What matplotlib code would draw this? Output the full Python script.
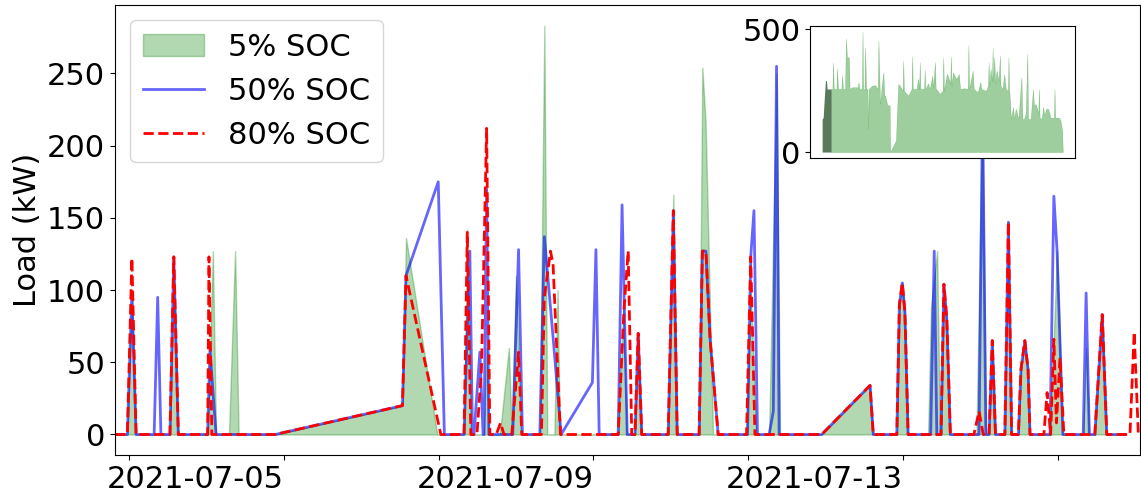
import numpy as np
import matplotlib
matplotlib.use("Agg")
import matplotlib.pyplot as plt

# ---------------- data (hours since 2021-07-03 00:00, kW) ----------------
green_h = [-4.3, -0.5, 0.9, 2.2, 12.7, 13.9, 15.3, 24.4, 26.0, 27.0, 31.0, 32.9, 34.0,
           45.3, 84.8, 85.9, 95.6, 103.9, 104.9, 106.0, 110.0, 110.9, 111.6, 115.0, 117.8,
           118.7, 120.0, 121.5, 127.4, 128.8, 129.7, 131.9, 132.9, 133.6, 151.7, 153.3,
           154.4, 156.9, 157.9, 159.0, 167.2, 168.8, 170.0, 176.8, 177.8, 178.8, 181.1,
           191.5, 192.8, 194.5, 198.5, 200.8, 201.9, 214.8, 229.8, 230.8, 238.1, 238.9,
           239.8, 240.6, 241.6, 247.8, 248.7, 250.6, 251.5, 251.8, 252.7, 253.6, 254.7,
           262.8, 264.6, 265.8, 266.7, 267.7, 268.7, 271.6, 272.7, 273.7, 275.8, 276.6,
           277.8, 278.8, 279.4, 285.6, 287.8, 289.6, 295.9, 296.8, 297.8, 299.5, 301.8,
           303.2, 308.8]
green_kw = [0, 0, 95, 0, 0, 110, 0, 0, 127, 0, 0, 127, 0,
            0, 20, 136, 0, 0, 142, 0, 0, 60, 0, 0, 60,
            0, 110, 0, 0, 283, 0, 0, 100, 0, 0, 87,
            0, 0, 70, 0, 0, 166, 0, 0, 254, 216, 0,
            0, 100, 0, 0, 250, 0, 0, 34, 0, 0, 90,
            105, 85, 0, 0, 88, 127, 0, 0, 100, 78, 0,
            0, 220, 0, 0, 65, 0, 0, 147, 0, 0, 45,
            65, 45, 0, 0, 127, 0, 0, 60, 0, 0, 83,
            0, 0]

blue_h = [-4.3, -0.5, 0.9, 2.2, 7.8, 8.9, 9.9, 12.7, 13.9, 15.3, 24.4, 25.1, 27.0,
          45.3, 84.8, 85.9, 95.9, 97.8, 103.9, 105.7, 106.5, 107.0, 108.8, 109.8, 110.1,
          110.9, 111.6, 119.0, 120.8, 122.0, 127.4, 128.8, 131.6, 134.0, 143.7, 144.8,
          145.8, 151.7, 152.9, 154.5, 156.9, 157.9, 159.0, 167.2, 168.8, 170.0, 176.8,
          177.8, 178.9, 180.2, 182.7, 191.8, 192.8, 193.8, 194.9, 198.5, 199.8, 200.8,
          201.6, 214.8, 229.8, 230.8, 238.1, 238.9, 239.8, 240.6, 241.6, 248.6, 249.7,
          250.5, 251.8, 252.7, 253.6, 254.7, 263.6, 264.7, 265.7, 266.7, 267.7, 268.7,
          271.6, 272.7, 273.7, 275.8, 276.6, 277.8, 278.8, 279.4, 285.6, 286.8, 287.8,
          289.6, 295.9, 296.8, 297.8, 299.5, 301.8, 303.2, 308.8]
blue_kw = [0, 0, 99, 0, 0, 95, 0, 0, 123, 0, 0, 59, 0,
           0, 20, 110, 175, 0, 0, 127, 0, 0, 57, 0, 0,
           170, 0, 0, 128, 0, 0, 137, 65, 0, 36, 128,
           0, 0, 159, 0, 0, 70, 0, 0, 155, 0, 0,
           127, 127, 66, 0, 0, 123, 155, 0, 0, 16, 255,
           0, 0, 34, 0, 0, 90, 105, 85, 0, 0, 127,
           0, 0, 104, 80, 0, 0, 230, 0, 0, 65, 0,
           0, 147, 0, 0, 45, 65, 45, 0, 0, 165, 127,
           0, 0, 98, 0, 0, 83, 0, 0]

red_h = [-4.3, -0.5, 0.9, 2.2, 12.7, 13.9, 15.3, 24.4, 24.8, 25.7, 45.3, 84.8, 85.9,
         96.7, 103.9, 104.9, 106.0, 107.9, 109.3, 110.9, 111.9, 113.9, 115.2, 116.3,
         118.7, 120.8, 121.8, 127.9, 128.8, 130.7, 131.5, 133.8, 151.7, 153.5, 154.8,
         155.9, 156.9, 157.9, 159.0, 167.2, 168.8, 170.0, 176.8, 177.8, 178.9, 180.2,
         182.7, 191.5, 192.8, 194.1, 214.8, 229.8, 230.8, 238.1, 238.9, 239.8, 240.6,
         241.6, 251.8, 252.7, 253.6, 254.7, 262.0, 263.6, 264.9, 266.7, 267.7, 268.7,
         271.6, 272.7, 273.7, 275.8, 276.6, 277.8, 278.8, 279.4, 283.7, 284.7, 285.8,
         286.8, 287.6, 288.7, 289.9, 299.5, 301.8, 303.2, 310.4, 311.7, 313.0, 313.5]
red_kw = [0, 0, 122, 0, 0, 123, 0, 0, 123, 0, 0, 20, 110,
          0, 0, 140, 0, 0, 45, 212, 0, 0, 8, 0,
          0, 57, 0, 0, 95, 127, 118, 0, 0, 87, 127,
          0, 0, 70, 0, 0, 155, 0, 0, 127, 127, 66,
          0, 0, 123, 0, 0, 34, 0, 0, 90, 105, 85,
          0, 0, 104, 80, 0, 0, 16, 0, 0, 65, 0,
          0, 147, 0, 0, 45, 65, 45, 0, 0, 29, 0,
          66, 8, 53, 0, 0, 83, 0, 0, 71, 0, 0]

# inset: whole record (days since start of record, kW envelope)
inset_day = [13.3, 15.2, 16.2, 17.2, 21.1, 22.1, 23.6, 28.5, 29.5, 30.9, 33.9, 35.4, 36.8,
             39.8, 40.8, 44.2, 53.0, 54.0, 55.5, 57.4, 58.9, 59.9, 60.9, 62.8, 63.8, 65.3,
             67.3, 68.2, 69.2, 73.7, 78.6, 82.5, 83.5, 85.9, 88.4, 90.8, 92.3, 93.3, 96.7,
             100.2, 100.9, 109.5, 110.5, 112.9, 115.4, 119.3, 120.3, 121.3, 127.7, 132.6,
             133.6, 134.5, 139.9, 142.4, 143.9, 144.8, 145.8, 151.2, 152.2, 153.2, 157.1,
             159.6, 163.5, 164.5, 167.4, 168.4, 174.3, 178.7, 179.7, 180.7, 185.1, 190.0,
             191.0, 192.0, 194.0, 198.9, 202.8, 204.7, 211.1, 216.0, 217.0, 218.0, 223.4,
             224.9, 230.8, 234.7, 236.2, 243.0, 246.0, 247.0, 248.0, 249.9, 251.9, 252.9,
             253.8, 255.3, 256.8, 258.8, 261.7, 263.7, 264.6, 267.6, 270.1, 272.5, 275.5,
             276.4, 277.4, 278.9, 279.9, 283.3, 284.8, 287.2, 291.2, 295.6, 297.1, 299.5,
             302.0, 304.4, 305.4, 309.3, 312.8, 314.2, 316.7, 320.6, 321.6, 322.6, 325.5,
             328.0, 329.5, 332.4, 335.4, 338.8, 343.7, 344.7, 345.7, 351.1, 353.5, 356.0,
             357.0]
inset_kw = [257, 257, 366, 257, 257, 341, 257, 257, 312, 257, 257, 463, 386,
            386, 257, 264, 264, 285, 257, 257, 257, 490, 257, 257, 427, 257,
            257, 95, 257, 270, 273, 257, 454, 196, 270, 325, 230, 230, 192,
            190, 0, 47, 122, 278, 270, 250, 373, 250, 230, 257,
            389, 257, 257, 298, 257, 366, 257, 257, 335, 257, 280,
            257, 312, 260, 366, 260, 237, 250, 386, 250, 320, 280,
            389, 270, 325, 297, 318, 257, 260, 257, 436, 257, 332,
            257, 244, 285, 257, 250, 270, 366, 270, 339, 290, 424,
            290, 386, 280, 332, 290, 393, 270, 257, 318, 257, 250,
            386, 257, 200, 135, 183, 135, 176, 135, 305, 135, 135,
            160, 400, 135, 135, 257, 190, 196, 160, 257, 140, 135,
            183, 150, 176, 176, 140, 140, 257, 140, 140, 130, 88,
            0]
# highlighted window (the main-plot period) in the inset
window_day = [0.0, 1.5, 3.4, 4.9, 6.4, 7.4, 13.3]
window_kw = [135, 140, 230, 291, 291, 257, 257]

legend_labels = ["5% SOC", "50% SOC", "80% SOC"]
xtick_dates = ["2021-07-03", "2021-07-05", "2021-07-07", "2021-07-09",
               "2021-07-11", "2021-07-13", "2021-07-15"]
xtick_labels = ["", "2021-07-05", "", "2021-07-09", "", "2021-07-13", ""]
yticks_main = [0, 50, 100, 150, 200, 250]
yticks_inset = [0, 500]

# ---------------- plotting ----------------
t0 = np.datetime64("2021-07-03T00:00")


def to_dt(hours):
    mins = np.round(np.asarray(hours, dtype=float) * 60).astype("int64")
    return t0 + mins.astype("timedelta64[m]")


FS = 22
fig = plt.figure(figsize=(11.41, 4.97), dpi=100)
ax = fig.add_axes([0.1008, 0.0845, 0.8983, 0.9054])

ax.fill_between(to_dt(green_h), 0, green_kw, color="green", alpha=0.3,
                label=legend_labels[0])
ax.plot(to_dt(blue_h), blue_kw, color="blue", alpha=0.6, lw=2,
        label=legend_labels[1])
ax.plot(to_dt(red_h), red_kw, color="red", ls="--", lw=2,
        label=legend_labels[2])

ax.set_xlim(to_dt([-4.34])[0], to_dt([313.5])[0])
ax.set_ylim(-14.2, 297.4)
ax.set_xticks(np.array(xtick_dates, dtype="datetime64[m]"))
ax.set_xticklabels(xtick_labels, ha="right")
ax.set_yticks(yticks_main)
ax.tick_params(labelsize=FS)
ax.set_ylabel("Load (kW)", fontsize=FS)
ax.legend(loc="upper left", fontsize=FS)

# inset with the full record
ins = fig.add_axes([0.710, 0.682, 0.232, 0.266])
ins.fill_between(inset_day, 0, inset_kw, color="green", alpha=0.38, lw=0.3)
ins.fill_between(window_day, 0, window_kw, color="#5a785a", lw=0)
ins.set_xticks([])
ins.set_yticks(yticks_inset)
ins.set_ylim(-24.5, 514.5)
ins.tick_params(labelsize=FS)

fig.savefig("out.png", dpi=100)
